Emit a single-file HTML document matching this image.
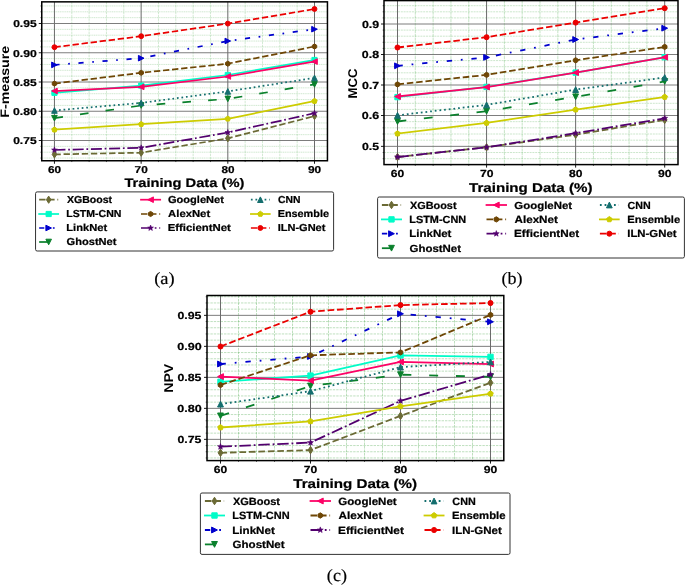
<!DOCTYPE html>
<html><head><meta charset="utf-8"><style>
html,body{margin:0;padding:0;background:#fff;}
svg{display:block;will-change:transform;}
text{text-rendering:geometricPrecision;}
</style></head><body>
<svg width="685" height="585" viewBox="0 0 685 585">
<rect width="685" height="585" fill="#fff"/>
<clipPath id="clipa"><rect x="41.75" y="1.85" width="285.7" height="158.9"/></clipPath>
<g clip-path="url(#clipa)">
<line x1="71.79" y1="1.85" x2="71.79" y2="160.75" stroke="#2e9a2e" stroke-opacity="0.24" stroke-width="0.9" stroke-dasharray="2.5,0.8"/>
<line x1="89.12" y1="1.85" x2="89.12" y2="160.75" stroke="#2e9a2e" stroke-opacity="0.24" stroke-width="0.9" stroke-dasharray="2.5,0.8"/>
<line x1="106.46" y1="1.85" x2="106.46" y2="160.75" stroke="#2e9a2e" stroke-opacity="0.24" stroke-width="0.9" stroke-dasharray="2.5,0.8"/>
<line x1="123.80" y1="1.85" x2="123.80" y2="160.75" stroke="#2e9a2e" stroke-opacity="0.24" stroke-width="0.9" stroke-dasharray="2.5,0.8"/>
<line x1="158.47" y1="1.85" x2="158.47" y2="160.75" stroke="#2e9a2e" stroke-opacity="0.24" stroke-width="0.9" stroke-dasharray="2.5,0.8"/>
<line x1="175.81" y1="1.85" x2="175.81" y2="160.75" stroke="#2e9a2e" stroke-opacity="0.24" stroke-width="0.9" stroke-dasharray="2.5,0.8"/>
<line x1="193.14" y1="1.85" x2="193.14" y2="160.75" stroke="#2e9a2e" stroke-opacity="0.24" stroke-width="0.9" stroke-dasharray="2.5,0.8"/>
<line x1="210.48" y1="1.85" x2="210.48" y2="160.75" stroke="#2e9a2e" stroke-opacity="0.24" stroke-width="0.9" stroke-dasharray="2.5,0.8"/>
<line x1="245.15" y1="1.85" x2="245.15" y2="160.75" stroke="#2e9a2e" stroke-opacity="0.24" stroke-width="0.9" stroke-dasharray="2.5,0.8"/>
<line x1="262.49" y1="1.85" x2="262.49" y2="160.75" stroke="#2e9a2e" stroke-opacity="0.24" stroke-width="0.9" stroke-dasharray="2.5,0.8"/>
<line x1="279.83" y1="1.85" x2="279.83" y2="160.75" stroke="#2e9a2e" stroke-opacity="0.24" stroke-width="0.9" stroke-dasharray="2.5,0.8"/>
<line x1="297.16" y1="1.85" x2="297.16" y2="160.75" stroke="#2e9a2e" stroke-opacity="0.24" stroke-width="0.9" stroke-dasharray="2.5,0.8"/>
<line x1="41.75" y1="158.05" x2="327.45" y2="158.05" stroke="#2e9a2e" stroke-opacity="0.25" stroke-width="0.9" stroke-dasharray="1.2,0.6"/>
<line x1="41.75" y1="152.20" x2="327.45" y2="152.20" stroke="#2e9a2e" stroke-opacity="0.25" stroke-width="0.9" stroke-dasharray="1.2,0.6"/>
<line x1="41.75" y1="146.35" x2="327.45" y2="146.35" stroke="#2e9a2e" stroke-opacity="0.25" stroke-width="0.9" stroke-dasharray="1.2,0.6"/>
<line x1="41.75" y1="134.65" x2="327.45" y2="134.65" stroke="#2e9a2e" stroke-opacity="0.25" stroke-width="0.9" stroke-dasharray="1.2,0.6"/>
<line x1="41.75" y1="128.80" x2="327.45" y2="128.80" stroke="#2e9a2e" stroke-opacity="0.25" stroke-width="0.9" stroke-dasharray="1.2,0.6"/>
<line x1="41.75" y1="122.95" x2="327.45" y2="122.95" stroke="#2e9a2e" stroke-opacity="0.25" stroke-width="0.9" stroke-dasharray="1.2,0.6"/>
<line x1="41.75" y1="117.10" x2="327.45" y2="117.10" stroke="#2e9a2e" stroke-opacity="0.25" stroke-width="0.9" stroke-dasharray="1.2,0.6"/>
<line x1="41.75" y1="105.40" x2="327.45" y2="105.40" stroke="#2e9a2e" stroke-opacity="0.25" stroke-width="0.9" stroke-dasharray="1.2,0.6"/>
<line x1="41.75" y1="99.55" x2="327.45" y2="99.55" stroke="#2e9a2e" stroke-opacity="0.25" stroke-width="0.9" stroke-dasharray="1.2,0.6"/>
<line x1="41.75" y1="93.70" x2="327.45" y2="93.70" stroke="#2e9a2e" stroke-opacity="0.25" stroke-width="0.9" stroke-dasharray="1.2,0.6"/>
<line x1="41.75" y1="87.85" x2="327.45" y2="87.85" stroke="#2e9a2e" stroke-opacity="0.25" stroke-width="0.9" stroke-dasharray="1.2,0.6"/>
<line x1="41.75" y1="76.15" x2="327.45" y2="76.15" stroke="#2e9a2e" stroke-opacity="0.25" stroke-width="0.9" stroke-dasharray="1.2,0.6"/>
<line x1="41.75" y1="70.30" x2="327.45" y2="70.30" stroke="#2e9a2e" stroke-opacity="0.25" stroke-width="0.9" stroke-dasharray="1.2,0.6"/>
<line x1="41.75" y1="64.45" x2="327.45" y2="64.45" stroke="#2e9a2e" stroke-opacity="0.25" stroke-width="0.9" stroke-dasharray="1.2,0.6"/>
<line x1="41.75" y1="58.60" x2="327.45" y2="58.60" stroke="#2e9a2e" stroke-opacity="0.25" stroke-width="0.9" stroke-dasharray="1.2,0.6"/>
<line x1="41.75" y1="46.90" x2="327.45" y2="46.90" stroke="#2e9a2e" stroke-opacity="0.25" stroke-width="0.9" stroke-dasharray="1.2,0.6"/>
<line x1="41.75" y1="41.05" x2="327.45" y2="41.05" stroke="#2e9a2e" stroke-opacity="0.25" stroke-width="0.9" stroke-dasharray="1.2,0.6"/>
<line x1="41.75" y1="35.20" x2="327.45" y2="35.20" stroke="#2e9a2e" stroke-opacity="0.25" stroke-width="0.9" stroke-dasharray="1.2,0.6"/>
<line x1="41.75" y1="29.35" x2="327.45" y2="29.35" stroke="#2e9a2e" stroke-opacity="0.25" stroke-width="0.9" stroke-dasharray="1.2,0.6"/>
<line x1="41.75" y1="17.65" x2="327.45" y2="17.65" stroke="#2e9a2e" stroke-opacity="0.25" stroke-width="0.9" stroke-dasharray="1.2,0.6"/>
<line x1="41.75" y1="11.80" x2="327.45" y2="11.80" stroke="#2e9a2e" stroke-opacity="0.25" stroke-width="0.9" stroke-dasharray="1.2,0.6"/>
<line x1="41.75" y1="5.95" x2="327.45" y2="5.95" stroke="#2e9a2e" stroke-opacity="0.25" stroke-width="0.9" stroke-dasharray="1.2,0.6"/>
<line x1="54.45" y1="1.85" x2="54.45" y2="160.75" stroke="#5a5a5a" stroke-width="0.9"/>
<line x1="141.13" y1="1.85" x2="141.13" y2="160.75" stroke="#5a5a5a" stroke-width="0.9"/>
<line x1="227.82" y1="1.85" x2="227.82" y2="160.75" stroke="#5a5a5a" stroke-width="0.9"/>
<line x1="314.50" y1="1.85" x2="314.50" y2="160.75" stroke="#5a5a5a" stroke-width="0.9"/>
<line x1="41.75" y1="140.50" x2="327.45" y2="140.50" stroke="#6e6e6e" stroke-width="0.9"/>
<line x1="41.75" y1="111.25" x2="327.45" y2="111.25" stroke="#6e6e6e" stroke-width="0.9"/>
<line x1="41.75" y1="82.00" x2="327.45" y2="82.00" stroke="#6e6e6e" stroke-width="0.9"/>
<line x1="41.75" y1="52.75" x2="327.45" y2="52.75" stroke="#6e6e6e" stroke-width="0.9"/>
<line x1="41.75" y1="23.50" x2="327.45" y2="23.50" stroke="#6e6e6e" stroke-width="0.9"/>
<polyline points="54.45,154.40 141.20,152.70 227.80,138.30 314.50,116.10" fill="none" stroke="#6b6a35" stroke-width="1.72" stroke-dasharray="6.36,2.75" stroke-linejoin="round"/>
<polygon points="54.45,150.80 56.75,154.40 54.45,158.00 52.15,154.40" fill="#6b6a35" stroke="#6b6a35" stroke-width="1.0" stroke-linejoin="miter"/>
<polygon points="141.20,149.10 143.50,152.70 141.20,156.30 138.90,152.70" fill="#6b6a35" stroke="#6b6a35" stroke-width="1.0" stroke-linejoin="miter"/>
<polygon points="227.80,134.70 230.10,138.30 227.80,141.90 225.50,138.30" fill="#6b6a35" stroke="#6b6a35" stroke-width="1.0" stroke-linejoin="miter"/>
<polygon points="314.50,112.50 316.80,116.10 314.50,119.70 312.20,116.10" fill="#6b6a35" stroke="#6b6a35" stroke-width="1.0" stroke-linejoin="miter"/>
<polyline points="54.45,92.80 141.20,85.60 227.80,75.00 314.50,60.00" fill="none" stroke="#00fcc8" stroke-width="1.72" stroke-linecap="square" stroke-linejoin="round"/>
<polygon points="51.85,90.20 57.05,90.20 57.05,95.40 51.85,95.40" fill="#00fcc8" stroke="#00fcc8" stroke-width="1.0" stroke-linejoin="miter"/>
<polygon points="138.60,83.00 143.80,83.00 143.80,88.20 138.60,88.20" fill="#00fcc8" stroke="#00fcc8" stroke-width="1.0" stroke-linejoin="miter"/>
<polygon points="225.20,72.40 230.40,72.40 230.40,77.60 225.20,77.60" fill="#00fcc8" stroke="#00fcc8" stroke-width="1.0" stroke-linejoin="miter"/>
<polygon points="311.90,57.40 317.10,57.40 317.10,62.60 311.90,62.60" fill="#00fcc8" stroke="#00fcc8" stroke-width="1.0" stroke-linejoin="miter"/>
<polyline points="54.45,64.90 141.20,58.20 227.80,41.00 314.50,29.20" fill="none" stroke="#0000cd" stroke-width="1.72" stroke-dasharray="5.16,8.60,1.72,8.60" stroke-linejoin="round"/>
<polygon points="57.25,64.90 51.65,62.10 51.65,67.70" fill="#0000cd" stroke="#0000cd" stroke-width="1.0" stroke-linejoin="miter"/>
<polygon points="144.00,58.20 138.40,55.40 138.40,61.00" fill="#0000cd" stroke="#0000cd" stroke-width="1.0" stroke-linejoin="miter"/>
<polygon points="230.60,41.00 225.00,38.20 225.00,43.80" fill="#0000cd" stroke="#0000cd" stroke-width="1.0" stroke-linejoin="miter"/>
<polygon points="317.30,29.20 311.70,26.40 311.70,32.00" fill="#0000cd" stroke="#0000cd" stroke-width="1.0" stroke-linejoin="miter"/>
<polyline points="54.45,118.20 141.20,105.50 227.80,98.90 314.50,84.40" fill="none" stroke="#0a802c" stroke-width="1.72" stroke-dasharray="8.60,17.20" stroke-linejoin="round"/>
<polygon points="54.45,121.00 51.65,115.40 57.25,115.40" fill="#0a802c" stroke="#0a802c" stroke-width="1.0" stroke-linejoin="miter"/>
<polygon points="141.20,108.30 138.40,102.70 144.00,102.70" fill="#0a802c" stroke="#0a802c" stroke-width="1.0" stroke-linejoin="miter"/>
<polygon points="227.80,101.70 225.00,96.10 230.60,96.10" fill="#0a802c" stroke="#0a802c" stroke-width="1.0" stroke-linejoin="miter"/>
<polygon points="314.50,87.20 311.70,81.60 317.30,81.60" fill="#0a802c" stroke="#0a802c" stroke-width="1.0" stroke-linejoin="miter"/>
<polyline points="54.45,91.00 141.20,86.90 227.80,76.50 314.50,61.60" fill="none" stroke="#fd0266" stroke-width="1.72" stroke-linecap="square" stroke-linejoin="round"/>
<polygon points="51.65,91.00 57.25,88.20 57.25,93.80" fill="#fd0266" stroke="#fd0266" stroke-width="1.0" stroke-linejoin="miter"/>
<polygon points="138.40,86.90 144.00,84.10 144.00,89.70" fill="#fd0266" stroke="#fd0266" stroke-width="1.0" stroke-linejoin="miter"/>
<polygon points="225.00,76.50 230.60,73.70 230.60,79.30" fill="#fd0266" stroke="#fd0266" stroke-width="1.0" stroke-linejoin="miter"/>
<polygon points="311.70,61.60 317.30,58.80 317.30,64.40" fill="#fd0266" stroke="#fd0266" stroke-width="1.0" stroke-linejoin="miter"/>
<polyline points="54.45,83.60 141.20,72.80 227.80,63.70 314.50,46.50" fill="none" stroke="#6e4605" stroke-width="1.72" stroke-dasharray="6.36,2.75" stroke-linejoin="round"/>
<polygon points="54.45,81.05 56.66,82.32 56.66,84.88 54.45,86.15 52.24,84.88 52.24,82.32" fill="#6e4605" stroke="#6e4605" stroke-width="1.0" stroke-linejoin="miter"/>
<polygon points="141.20,70.25 143.41,71.52 143.41,74.08 141.20,75.35 138.99,74.08 138.99,71.52" fill="#6e4605" stroke="#6e4605" stroke-width="1.0" stroke-linejoin="miter"/>
<polygon points="227.80,61.15 230.01,62.43 230.01,64.98 227.80,66.25 225.59,64.98 225.59,62.43" fill="#6e4605" stroke="#6e4605" stroke-width="1.0" stroke-linejoin="miter"/>
<polygon points="314.50,43.95 316.71,45.23 316.71,47.77 314.50,49.05 312.29,47.77 312.29,45.23" fill="#6e4605" stroke="#6e4605" stroke-width="1.0" stroke-linejoin="miter"/>
<polyline points="54.45,150.00 141.20,147.80 227.80,132.50 314.50,113.20" fill="none" stroke="#52006e" stroke-width="1.72" stroke-dasharray="11.01,2.75,1.72,2.75" stroke-linejoin="round"/>
<polygon points="54.45,147.00 55.19,148.98 57.30,149.07 55.65,150.39 56.21,152.43 54.45,151.26 52.69,152.43 53.25,150.39 51.60,149.07 53.71,148.98" fill="#52006e" stroke="#52006e" stroke-width="0.6"/>
<polygon points="141.20,144.80 141.94,146.78 144.05,146.87 142.40,148.19 142.96,150.23 141.20,149.06 139.44,150.23 140.00,148.19 138.35,146.87 140.46,146.78" fill="#52006e" stroke="#52006e" stroke-width="0.6"/>
<polygon points="227.80,129.50 228.54,131.48 230.65,131.57 229.00,132.89 229.56,134.93 227.80,133.76 226.04,134.93 226.60,132.89 224.95,131.57 227.06,131.48" fill="#52006e" stroke="#52006e" stroke-width="0.6"/>
<polygon points="314.50,110.20 315.24,112.18 317.35,112.27 315.70,113.59 316.26,115.63 314.50,114.46 312.74,115.63 313.30,113.59 311.65,112.27 313.76,112.18" fill="#52006e" stroke="#52006e" stroke-width="0.6"/>
<polyline points="54.45,110.50 141.20,102.90 227.80,91.40 314.50,77.90" fill="none" stroke="#146e6e" stroke-width="1.72" stroke-dasharray="1.72,2.84" stroke-linejoin="round"/>
<polygon points="54.45,107.70 51.65,113.30 57.25,113.30" fill="#146e6e" stroke="#146e6e" stroke-width="1.0" stroke-linejoin="miter"/>
<polygon points="141.20,100.10 138.40,105.70 144.00,105.70" fill="#146e6e" stroke="#146e6e" stroke-width="1.0" stroke-linejoin="miter"/>
<polygon points="227.80,88.60 225.00,94.20 230.60,94.20" fill="#146e6e" stroke="#146e6e" stroke-width="1.0" stroke-linejoin="miter"/>
<polygon points="314.50,75.10 311.70,80.70 317.30,80.70" fill="#146e6e" stroke="#146e6e" stroke-width="1.0" stroke-linejoin="miter"/>
<polyline points="54.45,129.70 141.20,124.20 227.80,118.80 314.50,101.10" fill="none" stroke="#cdcc00" stroke-width="1.72" stroke-linecap="square" stroke-linejoin="round"/>
<polygon points="54.45,126.90 57.11,128.83 56.10,131.97 52.80,131.97 51.79,128.83" fill="#cdcc00" stroke="#cdcc00" stroke-width="1.0" stroke-linejoin="miter"/>
<polygon points="141.20,121.40 143.86,123.33 142.85,126.47 139.55,126.47 138.54,123.33" fill="#cdcc00" stroke="#cdcc00" stroke-width="1.0" stroke-linejoin="miter"/>
<polygon points="227.80,116.00 230.46,117.93 229.45,121.07 226.15,121.07 225.14,117.93" fill="#cdcc00" stroke="#cdcc00" stroke-width="1.0" stroke-linejoin="miter"/>
<polygon points="314.50,98.30 317.16,100.23 316.15,103.37 312.85,103.37 311.84,100.23" fill="#cdcc00" stroke="#cdcc00" stroke-width="1.0" stroke-linejoin="miter"/>
<polyline points="54.45,47.20 141.20,36.20 227.80,23.60 314.50,9.00" fill="none" stroke="#eb0000" stroke-width="1.72" stroke-dasharray="6.36,2.75" stroke-linejoin="round"/>
<circle cx="54.45" cy="47.20" r="2.45" fill="#eb0000" stroke="#eb0000" stroke-width="1.0" stroke-linejoin="miter"/>
<circle cx="141.20" cy="36.20" r="2.45" fill="#eb0000" stroke="#eb0000" stroke-width="1.0" stroke-linejoin="miter"/>
<circle cx="227.80" cy="23.60" r="2.45" fill="#eb0000" stroke="#eb0000" stroke-width="1.0" stroke-linejoin="miter"/>
<circle cx="314.50" cy="9.00" r="2.45" fill="#eb0000" stroke="#eb0000" stroke-width="1.0" stroke-linejoin="miter"/>
</g>
<rect x="41.75" y="1.85" width="285.70" height="158.90" fill="none" stroke="#000" stroke-width="1.5"/>
<line x1="54.45" y1="160.75" x2="54.45" y2="163.75" stroke="#000" stroke-width="0.9"/>
<line x1="141.13" y1="160.75" x2="141.13" y2="163.75" stroke="#000" stroke-width="0.9"/>
<line x1="227.82" y1="160.75" x2="227.82" y2="163.75" stroke="#000" stroke-width="0.9"/>
<line x1="314.50" y1="160.75" x2="314.50" y2="163.75" stroke="#000" stroke-width="0.9"/>
<line x1="71.79" y1="160.75" x2="71.79" y2="162.05" stroke="#000" stroke-width="0.6"/>
<line x1="89.12" y1="160.75" x2="89.12" y2="162.05" stroke="#000" stroke-width="0.6"/>
<line x1="106.46" y1="160.75" x2="106.46" y2="162.05" stroke="#000" stroke-width="0.6"/>
<line x1="123.80" y1="160.75" x2="123.80" y2="162.05" stroke="#000" stroke-width="0.6"/>
<line x1="158.47" y1="160.75" x2="158.47" y2="162.05" stroke="#000" stroke-width="0.6"/>
<line x1="175.81" y1="160.75" x2="175.81" y2="162.05" stroke="#000" stroke-width="0.6"/>
<line x1="193.14" y1="160.75" x2="193.14" y2="162.05" stroke="#000" stroke-width="0.6"/>
<line x1="210.48" y1="160.75" x2="210.48" y2="162.05" stroke="#000" stroke-width="0.6"/>
<line x1="245.15" y1="160.75" x2="245.15" y2="162.05" stroke="#000" stroke-width="0.6"/>
<line x1="262.49" y1="160.75" x2="262.49" y2="162.05" stroke="#000" stroke-width="0.6"/>
<line x1="279.83" y1="160.75" x2="279.83" y2="162.05" stroke="#000" stroke-width="0.6"/>
<line x1="297.16" y1="160.75" x2="297.16" y2="162.05" stroke="#000" stroke-width="0.6"/>
<line x1="38.75" y1="140.50" x2="41.75" y2="140.50" stroke="#000" stroke-width="0.9"/>
<line x1="38.75" y1="111.25" x2="41.75" y2="111.25" stroke="#000" stroke-width="0.9"/>
<line x1="38.75" y1="82.00" x2="41.75" y2="82.00" stroke="#000" stroke-width="0.9"/>
<line x1="38.75" y1="52.75" x2="41.75" y2="52.75" stroke="#000" stroke-width="0.9"/>
<line x1="38.75" y1="23.50" x2="41.75" y2="23.50" stroke="#000" stroke-width="0.9"/>
<line x1="40.45" y1="158.05" x2="41.75" y2="158.05" stroke="#000" stroke-width="0.6"/>
<line x1="40.45" y1="152.20" x2="41.75" y2="152.20" stroke="#000" stroke-width="0.6"/>
<line x1="40.45" y1="146.35" x2="41.75" y2="146.35" stroke="#000" stroke-width="0.6"/>
<line x1="40.45" y1="134.65" x2="41.75" y2="134.65" stroke="#000" stroke-width="0.6"/>
<line x1="40.45" y1="128.80" x2="41.75" y2="128.80" stroke="#000" stroke-width="0.6"/>
<line x1="40.45" y1="122.95" x2="41.75" y2="122.95" stroke="#000" stroke-width="0.6"/>
<line x1="40.45" y1="117.10" x2="41.75" y2="117.10" stroke="#000" stroke-width="0.6"/>
<line x1="40.45" y1="105.40" x2="41.75" y2="105.40" stroke="#000" stroke-width="0.6"/>
<line x1="40.45" y1="99.55" x2="41.75" y2="99.55" stroke="#000" stroke-width="0.6"/>
<line x1="40.45" y1="93.70" x2="41.75" y2="93.70" stroke="#000" stroke-width="0.6"/>
<line x1="40.45" y1="87.85" x2="41.75" y2="87.85" stroke="#000" stroke-width="0.6"/>
<line x1="40.45" y1="76.15" x2="41.75" y2="76.15" stroke="#000" stroke-width="0.6"/>
<line x1="40.45" y1="70.30" x2="41.75" y2="70.30" stroke="#000" stroke-width="0.6"/>
<line x1="40.45" y1="64.45" x2="41.75" y2="64.45" stroke="#000" stroke-width="0.6"/>
<line x1="40.45" y1="58.60" x2="41.75" y2="58.60" stroke="#000" stroke-width="0.6"/>
<line x1="40.45" y1="46.90" x2="41.75" y2="46.90" stroke="#000" stroke-width="0.6"/>
<line x1="40.45" y1="41.05" x2="41.75" y2="41.05" stroke="#000" stroke-width="0.6"/>
<line x1="40.45" y1="35.20" x2="41.75" y2="35.20" stroke="#000" stroke-width="0.6"/>
<line x1="40.45" y1="29.35" x2="41.75" y2="29.35" stroke="#000" stroke-width="0.6"/>
<line x1="40.45" y1="17.65" x2="41.75" y2="17.65" stroke="#000" stroke-width="0.6"/>
<line x1="40.45" y1="11.80" x2="41.75" y2="11.80" stroke="#000" stroke-width="0.6"/>
<line x1="40.45" y1="5.95" x2="41.75" y2="5.95" stroke="#000" stroke-width="0.6"/>
<text x="13.19" y="144.36" font-family="Liberation Sans" font-weight="bold" font-size="9.99" textLength="23.38" lengthAdjust="spacingAndGlyphs" stroke="#000" stroke-width="0.22" stroke-linejoin="round">0.75</text>
<text x="12.97" y="115.11" font-family="Liberation Sans" font-weight="bold" font-size="9.99" textLength="23.77" lengthAdjust="spacingAndGlyphs" stroke="#000" stroke-width="0.22" stroke-linejoin="round">0.80</text>
<text x="13.19" y="85.86" font-family="Liberation Sans" font-weight="bold" font-size="9.99" textLength="23.38" lengthAdjust="spacingAndGlyphs" stroke="#000" stroke-width="0.22" stroke-linejoin="round">0.85</text>
<text x="12.97" y="56.61" font-family="Liberation Sans" font-weight="bold" font-size="9.99" textLength="23.77" lengthAdjust="spacingAndGlyphs" stroke="#000" stroke-width="0.22" stroke-linejoin="round">0.90</text>
<text x="13.19" y="27.36" font-family="Liberation Sans" font-weight="bold" font-size="9.99" textLength="23.38" lengthAdjust="spacingAndGlyphs" stroke="#000" stroke-width="0.22" stroke-linejoin="round">0.95</text>
<text x="47.98" y="173.01" font-family="Liberation Sans" font-weight="bold" font-size="9.99" textLength="13.13" lengthAdjust="spacingAndGlyphs" stroke="#000" stroke-width="0.22" stroke-linejoin="round">60</text>
<text x="134.63" y="173.01" font-family="Liberation Sans" font-weight="bold" font-size="9.99" textLength="13.16" lengthAdjust="spacingAndGlyphs" stroke="#000" stroke-width="0.22" stroke-linejoin="round">70</text>
<text x="221.40" y="173.01" font-family="Liberation Sans" font-weight="bold" font-size="9.99" textLength="13.08" lengthAdjust="spacingAndGlyphs" stroke="#000" stroke-width="0.22" stroke-linejoin="round">80</text>
<text x="307.95" y="173.01" font-family="Liberation Sans" font-weight="bold" font-size="9.99" textLength="13.21" lengthAdjust="spacingAndGlyphs" stroke="#000" stroke-width="0.22" stroke-linejoin="round">90</text>
<text x="124.44" y="186.60" font-family="Liberation Sans" font-weight="bold" font-size="12.34" textLength="119.91" lengthAdjust="spacingAndGlyphs" stroke="#000" stroke-width="0.22" stroke-linejoin="round">Training Data (%)</text>
<g transform="translate(8.70,81.75) rotate(-90)"><text x="-35.97" y="0.00" font-family="Liberation Sans" font-weight="bold" font-size="12.34" textLength="72.00" lengthAdjust="spacingAndGlyphs">F-measure</text></g>
<rect x="35.55" y="191.9" width="298.05" height="59.10" rx="1.6" fill="#fff" stroke="#333" stroke-width="1.0"/>
<line x1="39.15" y1="199.70" x2="58.20" y2="199.70" stroke="#6b6a35" stroke-width="1.72" stroke-dasharray="6.36,2.75"/>
<polygon points="48.67,196.10 50.97,199.70 48.67,203.30 46.38,199.70" fill="#6b6a35" stroke="#6b6a35" stroke-width="1.0" stroke-linejoin="miter"/>
<text x="66.92" y="203.16" font-family="Liberation Sans" font-weight="bold" font-size="10.07" textLength="45.22" lengthAdjust="spacingAndGlyphs" stroke="#000" stroke-width="0.22" stroke-linejoin="round">XGBoost</text>
<line x1="39.15" y1="214.00" x2="58.20" y2="214.00" stroke="#00fcc8" stroke-width="1.72" stroke-linecap="square"/>
<polygon points="46.07,211.40 51.27,211.40 51.27,216.60 46.07,216.60" fill="#00fcc8" stroke="#00fcc8" stroke-width="1.0" stroke-linejoin="miter"/>
<text x="66.30" y="217.46" font-family="Liberation Sans" font-weight="bold" font-size="10.07" textLength="55.10" lengthAdjust="spacingAndGlyphs" stroke="#000" stroke-width="0.22" stroke-linejoin="round">LSTM-CNN</text>
<line x1="39.15" y1="228.00" x2="58.20" y2="228.00" stroke="#0000cd" stroke-width="1.72" stroke-dasharray="5.16,8.60,1.72,8.60"/>
<polygon points="51.47,228.00 45.88,225.20 45.88,230.80" fill="#0000cd" stroke="#0000cd" stroke-width="1.0" stroke-linejoin="miter"/>
<text x="66.26" y="231.46" font-family="Liberation Sans" font-weight="bold" font-size="10.07" textLength="40.90" lengthAdjust="spacingAndGlyphs" stroke="#000" stroke-width="0.22" stroke-linejoin="round">LinkNet</text>
<line x1="39.15" y1="242.00" x2="58.20" y2="242.00" stroke="#0a802c" stroke-width="1.72" stroke-dasharray="8.60,17.20"/>
<polygon points="48.67,244.80 45.88,239.20 51.47,239.20" fill="#0a802c" stroke="#0a802c" stroke-width="1.0" stroke-linejoin="miter"/>
<text x="66.56" y="245.46" font-family="Liberation Sans" font-weight="bold" font-size="10.07" textLength="49.90" lengthAdjust="spacingAndGlyphs" stroke="#000" stroke-width="0.22" stroke-linejoin="round">GhostNet</text>
<line x1="141.00" y1="199.70" x2="160.20" y2="199.70" stroke="#fd0266" stroke-width="1.72" stroke-linecap="square"/>
<polygon points="147.80,199.70 153.40,196.90 153.40,202.50" fill="#fd0266" stroke="#fd0266" stroke-width="1.0" stroke-linejoin="miter"/>
<text x="167.96" y="203.16" font-family="Liberation Sans" font-weight="bold" font-size="10.07" textLength="55.96" lengthAdjust="spacingAndGlyphs" stroke="#000" stroke-width="0.22" stroke-linejoin="round">GoogleNet</text>
<line x1="141.00" y1="214.00" x2="160.20" y2="214.00" stroke="#6e4605" stroke-width="1.72" stroke-dasharray="6.36,2.75"/>
<polygon points="150.60,211.45 152.81,212.72 152.81,215.28 150.60,216.55 148.39,215.28 148.39,212.72" fill="#6e4605" stroke="#6e4605" stroke-width="1.0" stroke-linejoin="miter"/>
<text x="168.13" y="217.46" font-family="Liberation Sans" font-weight="bold" font-size="10.07" textLength="42.05" lengthAdjust="spacingAndGlyphs" stroke="#000" stroke-width="0.22" stroke-linejoin="round">AlexNet</text>
<line x1="141.00" y1="228.00" x2="160.20" y2="228.00" stroke="#52006e" stroke-width="1.72" stroke-dasharray="11.01,2.75,1.72,2.75"/>
<polygon points="150.60,225.00 151.34,226.98 153.45,227.07 151.80,228.39 152.36,230.43 150.60,229.26 148.84,230.43 149.40,228.39 147.75,227.07 149.86,226.98" fill="#52006e" stroke="#52006e" stroke-width="0.6"/>
<text x="167.65" y="231.46" font-family="Liberation Sans" font-weight="bold" font-size="10.07" textLength="63.17" lengthAdjust="spacingAndGlyphs" stroke="#000" stroke-width="0.22" stroke-linejoin="round">EfficientNet</text>
<line x1="250.90" y1="199.70" x2="269.80" y2="199.70" stroke="#146e6e" stroke-width="1.72" stroke-dasharray="1.72,2.84"/>
<polygon points="260.35,196.90 257.55,202.50 263.15,202.50" fill="#146e6e" stroke="#146e6e" stroke-width="1.0" stroke-linejoin="miter"/>
<text x="277.99" y="203.16" font-family="Liberation Sans" font-weight="bold" font-size="10.07" textLength="22.43" lengthAdjust="spacingAndGlyphs" stroke="#000" stroke-width="0.22" stroke-linejoin="round">CNN</text>
<line x1="250.90" y1="214.00" x2="269.80" y2="214.00" stroke="#cdcc00" stroke-width="1.72" stroke-linecap="square"/>
<polygon points="260.35,211.20 263.01,213.13 262.00,216.27 258.70,216.27 257.69,213.13" fill="#cdcc00" stroke="#cdcc00" stroke-width="1.0" stroke-linejoin="miter"/>
<text x="277.68" y="217.46" font-family="Liberation Sans" font-weight="bold" font-size="10.07" textLength="51.30" lengthAdjust="spacingAndGlyphs" stroke="#000" stroke-width="0.22" stroke-linejoin="round">Ensemble</text>
<line x1="250.90" y1="228.00" x2="269.80" y2="228.00" stroke="#eb0000" stroke-width="1.72" stroke-dasharray="6.36,2.75"/>
<circle cx="260.35" cy="228.00" r="2.45" fill="#eb0000" stroke="#eb0000" stroke-width="1.0" stroke-linejoin="miter"/>
<text x="277.67" y="231.46" font-family="Liberation Sans" font-weight="bold" font-size="10.07" textLength="47.78" lengthAdjust="spacingAndGlyphs" stroke="#000" stroke-width="0.22" stroke-linejoin="round">ILN-GNet</text>
<text x="154.23" y="284.10" font-family="Liberation Serif" font-weight="normal" font-size="17.30" textLength="20.44" lengthAdjust="spacingAndGlyphs" stroke="#000" stroke-width="0.18" stroke-linejoin="round">(a)</text>
<clipPath id="clipb"><rect x="384.0" y="0.6" width="294.0" height="164.0"/></clipPath>
<g clip-path="url(#clipb)">
<line x1="415.31" y1="0.6" x2="415.31" y2="164.6" stroke="#2e9a2e" stroke-opacity="0.3" stroke-width="0.9" stroke-dasharray="3,0.7"/>
<line x1="433.13" y1="0.6" x2="433.13" y2="164.6" stroke="#2e9a2e" stroke-opacity="0.3" stroke-width="0.9" stroke-dasharray="3,0.7"/>
<line x1="450.94" y1="0.6" x2="450.94" y2="164.6" stroke="#2e9a2e" stroke-opacity="0.3" stroke-width="0.9" stroke-dasharray="3,0.7"/>
<line x1="468.75" y1="0.6" x2="468.75" y2="164.6" stroke="#2e9a2e" stroke-opacity="0.3" stroke-width="0.9" stroke-dasharray="3,0.7"/>
<line x1="504.38" y1="0.6" x2="504.38" y2="164.6" stroke="#2e9a2e" stroke-opacity="0.3" stroke-width="0.9" stroke-dasharray="3,0.7"/>
<line x1="522.19" y1="0.6" x2="522.19" y2="164.6" stroke="#2e9a2e" stroke-opacity="0.3" stroke-width="0.9" stroke-dasharray="3,0.7"/>
<line x1="540.01" y1="0.6" x2="540.01" y2="164.6" stroke="#2e9a2e" stroke-opacity="0.3" stroke-width="0.9" stroke-dasharray="3,0.7"/>
<line x1="557.82" y1="0.6" x2="557.82" y2="164.6" stroke="#2e9a2e" stroke-opacity="0.3" stroke-width="0.9" stroke-dasharray="3,0.7"/>
<line x1="593.45" y1="0.6" x2="593.45" y2="164.6" stroke="#2e9a2e" stroke-opacity="0.3" stroke-width="0.9" stroke-dasharray="3,0.7"/>
<line x1="611.26" y1="0.6" x2="611.26" y2="164.6" stroke="#2e9a2e" stroke-opacity="0.3" stroke-width="0.9" stroke-dasharray="3,0.7"/>
<line x1="629.07" y1="0.6" x2="629.07" y2="164.6" stroke="#2e9a2e" stroke-opacity="0.3" stroke-width="0.9" stroke-dasharray="3,0.7"/>
<line x1="646.89" y1="0.6" x2="646.89" y2="164.6" stroke="#2e9a2e" stroke-opacity="0.3" stroke-width="0.9" stroke-dasharray="3,0.7"/>
<line x1="384.0" y1="158.69" x2="678.0" y2="158.69" stroke="#2e9a2e" stroke-opacity="0.27" stroke-width="0.9" stroke-dasharray="2,0.8"/>
<line x1="384.0" y1="152.52" x2="678.0" y2="152.52" stroke="#2e9a2e" stroke-opacity="0.27" stroke-width="0.9" stroke-dasharray="2,0.8"/>
<line x1="384.0" y1="140.18" x2="678.0" y2="140.18" stroke="#2e9a2e" stroke-opacity="0.27" stroke-width="0.9" stroke-dasharray="2,0.8"/>
<line x1="384.0" y1="134.01" x2="678.0" y2="134.01" stroke="#2e9a2e" stroke-opacity="0.27" stroke-width="0.9" stroke-dasharray="2,0.8"/>
<line x1="384.0" y1="127.84" x2="678.0" y2="127.84" stroke="#2e9a2e" stroke-opacity="0.27" stroke-width="0.9" stroke-dasharray="2,0.8"/>
<line x1="384.0" y1="121.67" x2="678.0" y2="121.67" stroke="#2e9a2e" stroke-opacity="0.27" stroke-width="0.9" stroke-dasharray="2,0.8"/>
<line x1="384.0" y1="109.40" x2="678.0" y2="109.40" stroke="#2e9a2e" stroke-opacity="0.27" stroke-width="0.9" stroke-dasharray="2,0.8"/>
<line x1="384.0" y1="103.30" x2="678.0" y2="103.30" stroke="#2e9a2e" stroke-opacity="0.27" stroke-width="0.9" stroke-dasharray="2,0.8"/>
<line x1="384.0" y1="97.20" x2="678.0" y2="97.20" stroke="#2e9a2e" stroke-opacity="0.27" stroke-width="0.9" stroke-dasharray="2,0.8"/>
<line x1="384.0" y1="91.10" x2="678.0" y2="91.10" stroke="#2e9a2e" stroke-opacity="0.27" stroke-width="0.9" stroke-dasharray="2,0.8"/>
<line x1="384.0" y1="78.90" x2="678.0" y2="78.90" stroke="#2e9a2e" stroke-opacity="0.27" stroke-width="0.9" stroke-dasharray="2,0.8"/>
<line x1="384.0" y1="72.80" x2="678.0" y2="72.80" stroke="#2e9a2e" stroke-opacity="0.27" stroke-width="0.9" stroke-dasharray="2,0.8"/>
<line x1="384.0" y1="66.70" x2="678.0" y2="66.70" stroke="#2e9a2e" stroke-opacity="0.27" stroke-width="0.9" stroke-dasharray="2,0.8"/>
<line x1="384.0" y1="60.60" x2="678.0" y2="60.60" stroke="#2e9a2e" stroke-opacity="0.27" stroke-width="0.9" stroke-dasharray="2,0.8"/>
<line x1="384.0" y1="48.40" x2="678.0" y2="48.40" stroke="#2e9a2e" stroke-opacity="0.27" stroke-width="0.9" stroke-dasharray="2,0.8"/>
<line x1="384.0" y1="42.30" x2="678.0" y2="42.30" stroke="#2e9a2e" stroke-opacity="0.27" stroke-width="0.9" stroke-dasharray="2,0.8"/>
<line x1="384.0" y1="36.20" x2="678.0" y2="36.20" stroke="#2e9a2e" stroke-opacity="0.27" stroke-width="0.9" stroke-dasharray="2,0.8"/>
<line x1="384.0" y1="30.10" x2="678.0" y2="30.10" stroke="#2e9a2e" stroke-opacity="0.27" stroke-width="0.9" stroke-dasharray="2,0.8"/>
<line x1="384.0" y1="17.90" x2="678.0" y2="17.90" stroke="#2e9a2e" stroke-opacity="0.27" stroke-width="0.9" stroke-dasharray="2,0.8"/>
<line x1="384.0" y1="11.80" x2="678.0" y2="11.80" stroke="#2e9a2e" stroke-opacity="0.27" stroke-width="0.9" stroke-dasharray="2,0.8"/>
<line x1="384.0" y1="5.70" x2="678.0" y2="5.70" stroke="#2e9a2e" stroke-opacity="0.27" stroke-width="0.9" stroke-dasharray="2,0.8"/>
<line x1="397.50" y1="0.6" x2="397.50" y2="164.6" stroke="#5a5a5a" stroke-width="0.9"/>
<line x1="486.57" y1="0.6" x2="486.57" y2="164.6" stroke="#5a5a5a" stroke-width="0.9"/>
<line x1="575.63" y1="0.6" x2="575.63" y2="164.6" stroke="#5a5a5a" stroke-width="0.9"/>
<line x1="664.70" y1="0.6" x2="664.70" y2="164.6" stroke="#5a5a5a" stroke-width="0.9"/>
<line x1="384.0" y1="146.35" x2="678.0" y2="146.35" stroke="#6e6e6e" stroke-width="0.9"/>
<line x1="384.0" y1="115.50" x2="678.0" y2="115.50" stroke="#6e6e6e" stroke-width="0.9"/>
<line x1="384.0" y1="85.00" x2="678.0" y2="85.00" stroke="#6e6e6e" stroke-width="0.9"/>
<line x1="384.0" y1="54.50" x2="678.0" y2="54.50" stroke="#6e6e6e" stroke-width="0.9"/>
<line x1="384.0" y1="24.00" x2="678.0" y2="24.00" stroke="#6e6e6e" stroke-width="0.9"/>
<polyline points="397.50,157.00 486.57,147.30 575.63,134.70 664.70,119.90" fill="none" stroke="#6b6a35" stroke-width="1.76816" stroke-dasharray="6.54,2.83" stroke-linejoin="round"/>
<polygon points="397.50,153.30 399.86,157.00 397.50,160.70 395.14,157.00" fill="#6b6a35" stroke="#6b6a35" stroke-width="1.0" stroke-linejoin="miter"/>
<polygon points="486.57,143.60 488.93,147.30 486.57,151.00 484.21,147.30" fill="#6b6a35" stroke="#6b6a35" stroke-width="1.0" stroke-linejoin="miter"/>
<polygon points="575.63,131.00 577.99,134.70 575.63,138.40 573.27,134.70" fill="#6b6a35" stroke="#6b6a35" stroke-width="1.0" stroke-linejoin="miter"/>
<polygon points="664.70,116.20 667.06,119.90 664.70,123.60 662.34,119.90" fill="#6b6a35" stroke="#6b6a35" stroke-width="1.0" stroke-linejoin="miter"/>
<polyline points="397.50,97.10 486.57,86.90 575.63,72.60 664.70,57.20" fill="none" stroke="#00fcc8" stroke-width="1.76816" stroke-linecap="square" stroke-linejoin="round"/>
<polygon points="394.83,94.43 400.17,94.43 400.17,99.77 394.83,99.77" fill="#00fcc8" stroke="#00fcc8" stroke-width="1.0" stroke-linejoin="miter"/>
<polygon points="483.90,84.23 489.24,84.23 489.24,89.57 483.90,89.57" fill="#00fcc8" stroke="#00fcc8" stroke-width="1.0" stroke-linejoin="miter"/>
<polygon points="572.96,69.93 578.30,69.93 578.30,75.27 572.96,75.27" fill="#00fcc8" stroke="#00fcc8" stroke-width="1.0" stroke-linejoin="miter"/>
<polygon points="662.03,54.53 667.37,54.53 667.37,59.87 662.03,59.87" fill="#00fcc8" stroke="#00fcc8" stroke-width="1.0" stroke-linejoin="miter"/>
<polyline points="397.50,65.80 486.57,57.40 575.63,39.50 664.70,28.20" fill="none" stroke="#0000cd" stroke-width="1.76816" stroke-dasharray="5.30,8.84,1.77,8.84" stroke-linejoin="round"/>
<polygon points="400.38,65.80 394.62,62.92 394.62,68.68" fill="#0000cd" stroke="#0000cd" stroke-width="1.0" stroke-linejoin="miter"/>
<polygon points="489.45,57.40 483.69,54.52 483.69,60.28" fill="#0000cd" stroke="#0000cd" stroke-width="1.0" stroke-linejoin="miter"/>
<polygon points="578.51,39.50 572.75,36.62 572.75,42.38" fill="#0000cd" stroke="#0000cd" stroke-width="1.0" stroke-linejoin="miter"/>
<polygon points="667.58,28.20 661.82,25.32 661.82,31.08" fill="#0000cd" stroke="#0000cd" stroke-width="1.0" stroke-linejoin="miter"/>
<polyline points="397.50,121.50 486.57,111.20 575.63,96.80 664.70,81.40" fill="none" stroke="#0a802c" stroke-width="1.76816" stroke-dasharray="8.84,17.68" stroke-linejoin="round"/>
<polygon points="397.50,124.38 394.62,118.62 400.38,118.62" fill="#0a802c" stroke="#0a802c" stroke-width="1.0" stroke-linejoin="miter"/>
<polygon points="486.57,114.08 483.69,108.32 489.45,108.32" fill="#0a802c" stroke="#0a802c" stroke-width="1.0" stroke-linejoin="miter"/>
<polygon points="575.63,99.68 572.75,93.92 578.51,93.92" fill="#0a802c" stroke="#0a802c" stroke-width="1.0" stroke-linejoin="miter"/>
<polygon points="664.70,84.28 661.82,78.52 667.58,78.52" fill="#0a802c" stroke="#0a802c" stroke-width="1.0" stroke-linejoin="miter"/>
<polyline points="397.50,96.50 486.57,87.10 575.63,72.60 664.70,57.20" fill="none" stroke="#fd0266" stroke-width="1.76816" stroke-linecap="square" stroke-linejoin="round"/>
<polygon points="394.62,96.50 400.38,93.62 400.38,99.38" fill="#fd0266" stroke="#fd0266" stroke-width="1.0" stroke-linejoin="miter"/>
<polygon points="483.69,87.10 489.45,84.22 489.45,89.98" fill="#fd0266" stroke="#fd0266" stroke-width="1.0" stroke-linejoin="miter"/>
<polygon points="572.75,72.60 578.51,69.72 578.51,75.48" fill="#fd0266" stroke="#fd0266" stroke-width="1.0" stroke-linejoin="miter"/>
<polygon points="661.82,57.20 667.58,54.32 667.58,60.08" fill="#fd0266" stroke="#fd0266" stroke-width="1.0" stroke-linejoin="miter"/>
<polyline points="397.50,84.40 486.57,74.90 575.63,60.30 664.70,46.90" fill="none" stroke="#6e4605" stroke-width="1.76816" stroke-dasharray="6.54,2.83" stroke-linejoin="round"/>
<polygon points="397.50,81.78 399.77,83.09 399.77,85.71 397.50,87.02 395.23,85.71 395.23,83.09" fill="#6e4605" stroke="#6e4605" stroke-width="1.0" stroke-linejoin="miter"/>
<polygon points="486.57,72.28 488.84,73.59 488.84,76.21 486.57,77.52 484.30,76.21 484.30,73.59" fill="#6e4605" stroke="#6e4605" stroke-width="1.0" stroke-linejoin="miter"/>
<polygon points="575.63,57.68 577.90,58.99 577.90,61.61 575.63,62.92 573.36,61.61 573.36,58.99" fill="#6e4605" stroke="#6e4605" stroke-width="1.0" stroke-linejoin="miter"/>
<polygon points="664.70,44.28 666.97,45.59 666.97,48.21 664.70,49.52 662.43,48.21 662.43,45.59" fill="#6e4605" stroke="#6e4605" stroke-width="1.0" stroke-linejoin="miter"/>
<polyline points="397.50,157.00 486.57,147.30 575.63,133.20 664.70,118.30" fill="none" stroke="#52006e" stroke-width="1.76816" stroke-dasharray="11.32,2.83,1.77,2.83" stroke-linejoin="round"/>
<polygon points="397.50,153.92 398.26,155.95 400.43,156.05 398.73,157.40 399.31,159.50 397.50,158.30 395.69,159.50 396.27,157.40 394.57,156.05 396.74,155.95" fill="#52006e" stroke="#52006e" stroke-width="0.6"/>
<polygon points="486.57,144.22 487.33,146.25 489.50,146.35 487.80,147.70 488.38,149.80 486.57,148.60 484.76,149.80 485.34,147.70 483.64,146.35 485.81,146.25" fill="#52006e" stroke="#52006e" stroke-width="0.6"/>
<polygon points="575.63,130.12 576.39,132.15 578.56,132.25 576.86,133.60 577.44,135.70 575.63,134.50 573.82,135.70 574.40,133.60 572.70,132.25 574.87,132.15" fill="#52006e" stroke="#52006e" stroke-width="0.6"/>
<polygon points="664.70,115.22 665.46,117.25 667.63,117.35 665.93,118.70 666.51,120.80 664.70,119.60 662.89,120.80 663.47,118.70 661.77,117.35 663.94,117.25" fill="#52006e" stroke="#52006e" stroke-width="0.6"/>
<polyline points="397.50,115.30 486.57,104.90 575.63,89.60 664.70,77.50" fill="none" stroke="#146e6e" stroke-width="1.76816" stroke-dasharray="1.77,2.92" stroke-linejoin="round"/>
<polygon points="397.50,112.42 394.62,118.18 400.38,118.18" fill="#146e6e" stroke="#146e6e" stroke-width="1.0" stroke-linejoin="miter"/>
<polygon points="486.57,102.02 483.69,107.78 489.45,107.78" fill="#146e6e" stroke="#146e6e" stroke-width="1.0" stroke-linejoin="miter"/>
<polygon points="575.63,86.72 572.75,92.48 578.51,92.48" fill="#146e6e" stroke="#146e6e" stroke-width="1.0" stroke-linejoin="miter"/>
<polygon points="664.70,74.62 661.82,80.38 667.58,80.38" fill="#146e6e" stroke="#146e6e" stroke-width="1.0" stroke-linejoin="miter"/>
<polyline points="397.50,133.60 486.57,122.90 575.63,109.60 664.70,97.00" fill="none" stroke="#cdcc00" stroke-width="1.76816" stroke-linecap="square" stroke-linejoin="round"/>
<polygon points="397.50,130.72 400.24,132.71 399.19,135.93 395.81,135.93 394.76,132.71" fill="#cdcc00" stroke="#cdcc00" stroke-width="1.0" stroke-linejoin="miter"/>
<polygon points="486.57,120.02 489.31,122.01 488.26,125.23 484.88,125.23 483.83,122.01" fill="#cdcc00" stroke="#cdcc00" stroke-width="1.0" stroke-linejoin="miter"/>
<polygon points="575.63,106.72 578.37,108.71 577.32,111.93 573.94,111.93 572.89,108.71" fill="#cdcc00" stroke="#cdcc00" stroke-width="1.0" stroke-linejoin="miter"/>
<polygon points="664.70,94.12 667.44,96.11 666.39,99.33 663.01,99.33 661.96,96.11" fill="#cdcc00" stroke="#cdcc00" stroke-width="1.0" stroke-linejoin="miter"/>
<polyline points="397.50,47.50 486.57,37.20 575.63,22.60 664.70,8.20" fill="none" stroke="#eb0000" stroke-width="1.76816" stroke-dasharray="6.54,2.83" stroke-linejoin="round"/>
<circle cx="397.50" cy="47.50" r="2.52" fill="#eb0000" stroke="#eb0000" stroke-width="1.0" stroke-linejoin="miter"/>
<circle cx="486.57" cy="37.20" r="2.52" fill="#eb0000" stroke="#eb0000" stroke-width="1.0" stroke-linejoin="miter"/>
<circle cx="575.63" cy="22.60" r="2.52" fill="#eb0000" stroke="#eb0000" stroke-width="1.0" stroke-linejoin="miter"/>
<circle cx="664.70" cy="8.20" r="2.52" fill="#eb0000" stroke="#eb0000" stroke-width="1.0" stroke-linejoin="miter"/>
</g>
<rect x="384.0" y="0.6" width="294.00" height="164.00" fill="none" stroke="#000" stroke-width="1.5"/>
<line x1="397.50" y1="164.6" x2="397.50" y2="167.60" stroke="#000" stroke-width="0.9"/>
<line x1="486.57" y1="164.6" x2="486.57" y2="167.60" stroke="#000" stroke-width="0.9"/>
<line x1="575.63" y1="164.6" x2="575.63" y2="167.60" stroke="#000" stroke-width="0.9"/>
<line x1="664.70" y1="164.6" x2="664.70" y2="167.60" stroke="#000" stroke-width="0.9"/>
<line x1="415.31" y1="164.6" x2="415.31" y2="165.90" stroke="#000" stroke-width="0.6"/>
<line x1="433.13" y1="164.6" x2="433.13" y2="165.90" stroke="#000" stroke-width="0.6"/>
<line x1="450.94" y1="164.6" x2="450.94" y2="165.90" stroke="#000" stroke-width="0.6"/>
<line x1="468.75" y1="164.6" x2="468.75" y2="165.90" stroke="#000" stroke-width="0.6"/>
<line x1="504.38" y1="164.6" x2="504.38" y2="165.90" stroke="#000" stroke-width="0.6"/>
<line x1="522.19" y1="164.6" x2="522.19" y2="165.90" stroke="#000" stroke-width="0.6"/>
<line x1="540.01" y1="164.6" x2="540.01" y2="165.90" stroke="#000" stroke-width="0.6"/>
<line x1="557.82" y1="164.6" x2="557.82" y2="165.90" stroke="#000" stroke-width="0.6"/>
<line x1="593.45" y1="164.6" x2="593.45" y2="165.90" stroke="#000" stroke-width="0.6"/>
<line x1="611.26" y1="164.6" x2="611.26" y2="165.90" stroke="#000" stroke-width="0.6"/>
<line x1="629.07" y1="164.6" x2="629.07" y2="165.90" stroke="#000" stroke-width="0.6"/>
<line x1="646.89" y1="164.6" x2="646.89" y2="165.90" stroke="#000" stroke-width="0.6"/>
<line x1="381.00" y1="146.35" x2="384.0" y2="146.35" stroke="#000" stroke-width="0.9"/>
<line x1="381.00" y1="115.50" x2="384.0" y2="115.50" stroke="#000" stroke-width="0.9"/>
<line x1="381.00" y1="85.00" x2="384.0" y2="85.00" stroke="#000" stroke-width="0.9"/>
<line x1="381.00" y1="54.50" x2="384.0" y2="54.50" stroke="#000" stroke-width="0.9"/>
<line x1="381.00" y1="24.00" x2="384.0" y2="24.00" stroke="#000" stroke-width="0.9"/>
<line x1="382.70" y1="158.69" x2="384.0" y2="158.69" stroke="#000" stroke-width="0.6"/>
<line x1="382.70" y1="152.52" x2="384.0" y2="152.52" stroke="#000" stroke-width="0.6"/>
<line x1="382.70" y1="140.18" x2="384.0" y2="140.18" stroke="#000" stroke-width="0.6"/>
<line x1="382.70" y1="134.01" x2="384.0" y2="134.01" stroke="#000" stroke-width="0.6"/>
<line x1="382.70" y1="127.84" x2="384.0" y2="127.84" stroke="#000" stroke-width="0.6"/>
<line x1="382.70" y1="121.67" x2="384.0" y2="121.67" stroke="#000" stroke-width="0.6"/>
<line x1="382.70" y1="109.40" x2="384.0" y2="109.40" stroke="#000" stroke-width="0.6"/>
<line x1="382.70" y1="103.30" x2="384.0" y2="103.30" stroke="#000" stroke-width="0.6"/>
<line x1="382.70" y1="97.20" x2="384.0" y2="97.20" stroke="#000" stroke-width="0.6"/>
<line x1="382.70" y1="91.10" x2="384.0" y2="91.10" stroke="#000" stroke-width="0.6"/>
<line x1="382.70" y1="78.90" x2="384.0" y2="78.90" stroke="#000" stroke-width="0.6"/>
<line x1="382.70" y1="72.80" x2="384.0" y2="72.80" stroke="#000" stroke-width="0.6"/>
<line x1="382.70" y1="66.70" x2="384.0" y2="66.70" stroke="#000" stroke-width="0.6"/>
<line x1="382.70" y1="60.60" x2="384.0" y2="60.60" stroke="#000" stroke-width="0.6"/>
<line x1="382.70" y1="48.40" x2="384.0" y2="48.40" stroke="#000" stroke-width="0.6"/>
<line x1="382.70" y1="42.30" x2="384.0" y2="42.30" stroke="#000" stroke-width="0.6"/>
<line x1="382.70" y1="36.20" x2="384.0" y2="36.20" stroke="#000" stroke-width="0.6"/>
<line x1="382.70" y1="30.10" x2="384.0" y2="30.10" stroke="#000" stroke-width="0.6"/>
<line x1="382.70" y1="17.90" x2="384.0" y2="17.90" stroke="#000" stroke-width="0.6"/>
<line x1="382.70" y1="11.80" x2="384.0" y2="11.80" stroke="#000" stroke-width="0.6"/>
<line x1="382.70" y1="5.70" x2="384.0" y2="5.70" stroke="#000" stroke-width="0.6"/>
<text x="361.97" y="150.30" font-family="Liberation Sans" font-weight="bold" font-size="10.25" textLength="17.06" lengthAdjust="spacingAndGlyphs" stroke="#000" stroke-width="0.22" stroke-linejoin="round">0.5</text>
<text x="361.80" y="119.45" font-family="Liberation Sans" font-weight="bold" font-size="10.25" textLength="17.34" lengthAdjust="spacingAndGlyphs" stroke="#000" stroke-width="0.22" stroke-linejoin="round">0.6</text>
<text x="362.06" y="88.95" font-family="Liberation Sans" font-weight="bold" font-size="10.25" textLength="17.17" lengthAdjust="spacingAndGlyphs" stroke="#000" stroke-width="0.22" stroke-linejoin="round">0.7</text>
<text x="361.89" y="58.45" font-family="Liberation Sans" font-weight="bold" font-size="10.25" textLength="17.18" lengthAdjust="spacingAndGlyphs" stroke="#000" stroke-width="0.22" stroke-linejoin="round">0.8</text>
<text x="361.91" y="27.95" font-family="Liberation Sans" font-weight="bold" font-size="10.25" textLength="17.24" lengthAdjust="spacingAndGlyphs" stroke="#000" stroke-width="0.22" stroke-linejoin="round">0.9</text>
<text x="390.86" y="176.65" font-family="Liberation Sans" font-weight="bold" font-size="10.25" textLength="13.47" lengthAdjust="spacingAndGlyphs" stroke="#000" stroke-width="0.22" stroke-linejoin="round">60</text>
<text x="479.90" y="176.65" font-family="Liberation Sans" font-weight="bold" font-size="10.25" textLength="13.50" lengthAdjust="spacingAndGlyphs" stroke="#000" stroke-width="0.22" stroke-linejoin="round">70</text>
<text x="569.04" y="176.65" font-family="Liberation Sans" font-weight="bold" font-size="10.25" textLength="13.42" lengthAdjust="spacingAndGlyphs" stroke="#000" stroke-width="0.22" stroke-linejoin="round">80</text>
<text x="657.98" y="176.65" font-family="Liberation Sans" font-weight="bold" font-size="10.25" textLength="13.56" lengthAdjust="spacingAndGlyphs" stroke="#000" stroke-width="0.22" stroke-linejoin="round">90</text>
<text x="469.09" y="191.60" font-family="Liberation Sans" font-weight="bold" font-size="12.70" textLength="123.38" lengthAdjust="spacingAndGlyphs" stroke="#000" stroke-width="0.22" stroke-linejoin="round">Training Data (%)</text>
<g transform="translate(357.00,83.35) rotate(-90)"><text x="-15.07" y="0.00" font-family="Liberation Sans" font-weight="bold" font-size="12.70" textLength="29.96" lengthAdjust="spacingAndGlyphs">MCC</text></g>
<rect x="377.6" y="197.0" width="306.80" height="61.00" rx="1.6" fill="#fff" stroke="#333" stroke-width="1.0"/>
<line x1="381.90" y1="205.00" x2="401.10" y2="205.00" stroke="#6b6a35" stroke-width="1.76816" stroke-dasharray="6.54,2.83"/>
<polygon points="391.50,201.30 393.86,205.00 391.50,208.70 389.14,205.00" fill="#6b6a35" stroke="#6b6a35" stroke-width="1.0" stroke-linejoin="miter"/>
<text x="409.91" y="208.57" font-family="Liberation Sans" font-weight="bold" font-size="10.39" textLength="46.65" lengthAdjust="spacingAndGlyphs" stroke="#000" stroke-width="0.22" stroke-linejoin="round">XGBoost</text>
<line x1="381.90" y1="219.40" x2="401.10" y2="219.40" stroke="#00fcc8" stroke-width="1.76816" stroke-linecap="square"/>
<polygon points="388.83,216.73 394.17,216.73 394.17,222.07 388.83,222.07" fill="#00fcc8" stroke="#00fcc8" stroke-width="1.0" stroke-linejoin="miter"/>
<text x="409.28" y="222.97" font-family="Liberation Sans" font-weight="bold" font-size="10.39" textLength="56.85" lengthAdjust="spacingAndGlyphs" stroke="#000" stroke-width="0.22" stroke-linejoin="round">LSTM-CNN</text>
<line x1="381.90" y1="233.70" x2="401.10" y2="233.70" stroke="#0000cd" stroke-width="1.76816" stroke-dasharray="5.30,8.84,1.77,8.84"/>
<polygon points="394.38,233.70 388.62,230.82 388.62,236.58" fill="#0000cd" stroke="#0000cd" stroke-width="1.0" stroke-linejoin="miter"/>
<text x="409.24" y="237.27" font-family="Liberation Sans" font-weight="bold" font-size="10.39" textLength="42.20" lengthAdjust="spacingAndGlyphs" stroke="#000" stroke-width="0.22" stroke-linejoin="round">LinkNet</text>
<line x1="381.90" y1="248.20" x2="401.10" y2="248.20" stroke="#0a802c" stroke-width="1.76816" stroke-dasharray="8.84,17.68"/>
<polygon points="391.50,251.08 388.62,245.32 394.38,245.32" fill="#0a802c" stroke="#0a802c" stroke-width="1.0" stroke-linejoin="miter"/>
<text x="409.54" y="251.77" font-family="Liberation Sans" font-weight="bold" font-size="10.39" textLength="51.48" lengthAdjust="spacingAndGlyphs" stroke="#000" stroke-width="0.22" stroke-linejoin="round">GhostNet</text>
<line x1="486.50" y1="205.00" x2="506.10" y2="205.00" stroke="#fd0266" stroke-width="1.76816" stroke-linecap="square"/>
<polygon points="493.42,205.00 499.18,202.12 499.18,207.88" fill="#fd0266" stroke="#fd0266" stroke-width="1.0" stroke-linejoin="miter"/>
<text x="514.34" y="208.57" font-family="Liberation Sans" font-weight="bold" font-size="10.39" textLength="57.74" lengthAdjust="spacingAndGlyphs" stroke="#000" stroke-width="0.22" stroke-linejoin="round">GoogleNet</text>
<line x1="486.50" y1="219.40" x2="506.10" y2="219.40" stroke="#6e4605" stroke-width="1.76816" stroke-dasharray="6.54,2.83"/>
<polygon points="496.30,216.78 498.57,218.09 498.57,220.71 496.30,222.02 494.03,220.71 494.03,218.09" fill="#6e4605" stroke="#6e4605" stroke-width="1.0" stroke-linejoin="miter"/>
<text x="514.52" y="222.97" font-family="Liberation Sans" font-weight="bold" font-size="10.39" textLength="43.38" lengthAdjust="spacingAndGlyphs" stroke="#000" stroke-width="0.22" stroke-linejoin="round">AlexNet</text>
<line x1="486.50" y1="233.70" x2="506.10" y2="233.70" stroke="#52006e" stroke-width="1.76816" stroke-dasharray="11.32,2.83,1.77,2.83"/>
<polygon points="496.30,230.62 497.06,232.65 499.23,232.75 497.53,234.10 498.11,236.20 496.30,235.00 494.49,236.20 495.07,234.10 493.37,232.75 495.54,232.65" fill="#52006e" stroke="#52006e" stroke-width="0.6"/>
<text x="514.03" y="237.27" font-family="Liberation Sans" font-weight="bold" font-size="10.39" textLength="65.17" lengthAdjust="spacingAndGlyphs" stroke="#000" stroke-width="0.22" stroke-linejoin="round">EfficientNet</text>
<line x1="599.90" y1="205.00" x2="618.80" y2="205.00" stroke="#146e6e" stroke-width="1.76816" stroke-dasharray="1.77,2.92"/>
<polygon points="609.35,202.12 606.47,207.88 612.23,207.88" fill="#146e6e" stroke="#146e6e" stroke-width="1.0" stroke-linejoin="miter"/>
<text x="627.57" y="208.57" font-family="Liberation Sans" font-weight="bold" font-size="10.39" textLength="23.15" lengthAdjust="spacingAndGlyphs" stroke="#000" stroke-width="0.22" stroke-linejoin="round">CNN</text>
<line x1="599.90" y1="219.40" x2="618.80" y2="219.40" stroke="#cdcc00" stroke-width="1.76816" stroke-linecap="square"/>
<polygon points="609.35,216.52 612.09,218.51 611.04,221.73 607.66,221.73 606.61,218.51" fill="#cdcc00" stroke="#cdcc00" stroke-width="1.0" stroke-linejoin="miter"/>
<text x="627.26" y="222.97" font-family="Liberation Sans" font-weight="bold" font-size="10.39" textLength="52.92" lengthAdjust="spacingAndGlyphs" stroke="#000" stroke-width="0.22" stroke-linejoin="round">Ensemble</text>
<line x1="599.90" y1="233.70" x2="618.80" y2="233.70" stroke="#eb0000" stroke-width="1.76816" stroke-dasharray="6.54,2.83"/>
<circle cx="609.35" cy="233.70" r="2.52" fill="#eb0000" stroke="#eb0000" stroke-width="1.0" stroke-linejoin="miter"/>
<text x="627.25" y="237.27" font-family="Liberation Sans" font-weight="bold" font-size="10.39" textLength="49.29" lengthAdjust="spacingAndGlyphs" stroke="#000" stroke-width="0.22" stroke-linejoin="round">ILN-GNet</text>
<text x="501.40" y="284.10" font-family="Liberation Serif" font-weight="normal" font-size="17.30" textLength="21.00" lengthAdjust="spacingAndGlyphs" stroke="#000" stroke-width="0.18" stroke-linejoin="round">(b)</text>
<clipPath id="clipc"><rect x="207.0" y="295.5" width="296.8" height="165.10000000000002"/></clipPath>
<g clip-path="url(#clipc)">
<line x1="238.50" y1="295.5" x2="238.50" y2="460.6" stroke="#2e9a2e" stroke-opacity="0.34" stroke-width="0.9" stroke-dasharray="2.6,0.9"/>
<line x1="256.50" y1="295.5" x2="256.50" y2="460.6" stroke="#2e9a2e" stroke-opacity="0.34" stroke-width="0.9" stroke-dasharray="2.6,0.9"/>
<line x1="274.50" y1="295.5" x2="274.50" y2="460.6" stroke="#2e9a2e" stroke-opacity="0.34" stroke-width="0.9" stroke-dasharray="2.6,0.9"/>
<line x1="292.50" y1="295.5" x2="292.50" y2="460.6" stroke="#2e9a2e" stroke-opacity="0.34" stroke-width="0.9" stroke-dasharray="2.6,0.9"/>
<line x1="328.50" y1="295.5" x2="328.50" y2="460.6" stroke="#2e9a2e" stroke-opacity="0.34" stroke-width="0.9" stroke-dasharray="2.6,0.9"/>
<line x1="346.50" y1="295.5" x2="346.50" y2="460.6" stroke="#2e9a2e" stroke-opacity="0.34" stroke-width="0.9" stroke-dasharray="2.6,0.9"/>
<line x1="364.50" y1="295.5" x2="364.50" y2="460.6" stroke="#2e9a2e" stroke-opacity="0.34" stroke-width="0.9" stroke-dasharray="2.6,0.9"/>
<line x1="382.50" y1="295.5" x2="382.50" y2="460.6" stroke="#2e9a2e" stroke-opacity="0.34" stroke-width="0.9" stroke-dasharray="2.6,0.9"/>
<line x1="418.50" y1="295.5" x2="418.50" y2="460.6" stroke="#2e9a2e" stroke-opacity="0.34" stroke-width="0.9" stroke-dasharray="2.6,0.9"/>
<line x1="436.50" y1="295.5" x2="436.50" y2="460.6" stroke="#2e9a2e" stroke-opacity="0.34" stroke-width="0.9" stroke-dasharray="2.6,0.9"/>
<line x1="454.50" y1="295.5" x2="454.50" y2="460.6" stroke="#2e9a2e" stroke-opacity="0.34" stroke-width="0.9" stroke-dasharray="2.6,0.9"/>
<line x1="472.50" y1="295.5" x2="472.50" y2="460.6" stroke="#2e9a2e" stroke-opacity="0.34" stroke-width="0.9" stroke-dasharray="2.6,0.9"/>
<line x1="207.0" y1="457.95" x2="503.8" y2="457.95" stroke="#2e9a2e" stroke-opacity="0.34" stroke-width="0.9" stroke-dasharray="2.4,1"/>
<line x1="207.0" y1="451.75" x2="503.8" y2="451.75" stroke="#2e9a2e" stroke-opacity="0.34" stroke-width="0.9" stroke-dasharray="2.4,1"/>
<line x1="207.0" y1="445.55" x2="503.8" y2="445.55" stroke="#2e9a2e" stroke-opacity="0.34" stroke-width="0.9" stroke-dasharray="2.4,1"/>
<line x1="207.0" y1="433.15" x2="503.8" y2="433.15" stroke="#2e9a2e" stroke-opacity="0.34" stroke-width="0.9" stroke-dasharray="2.4,1"/>
<line x1="207.0" y1="426.95" x2="503.8" y2="426.95" stroke="#2e9a2e" stroke-opacity="0.34" stroke-width="0.9" stroke-dasharray="2.4,1"/>
<line x1="207.0" y1="420.75" x2="503.8" y2="420.75" stroke="#2e9a2e" stroke-opacity="0.34" stroke-width="0.9" stroke-dasharray="2.4,1"/>
<line x1="207.0" y1="414.55" x2="503.8" y2="414.55" stroke="#2e9a2e" stroke-opacity="0.34" stroke-width="0.9" stroke-dasharray="2.4,1"/>
<line x1="207.0" y1="402.15" x2="503.8" y2="402.15" stroke="#2e9a2e" stroke-opacity="0.34" stroke-width="0.9" stroke-dasharray="2.4,1"/>
<line x1="207.0" y1="395.95" x2="503.8" y2="395.95" stroke="#2e9a2e" stroke-opacity="0.34" stroke-width="0.9" stroke-dasharray="2.4,1"/>
<line x1="207.0" y1="389.75" x2="503.8" y2="389.75" stroke="#2e9a2e" stroke-opacity="0.34" stroke-width="0.9" stroke-dasharray="2.4,1"/>
<line x1="207.0" y1="383.55" x2="503.8" y2="383.55" stroke="#2e9a2e" stroke-opacity="0.34" stroke-width="0.9" stroke-dasharray="2.4,1"/>
<line x1="207.0" y1="371.15" x2="503.8" y2="371.15" stroke="#2e9a2e" stroke-opacity="0.34" stroke-width="0.9" stroke-dasharray="2.4,1"/>
<line x1="207.0" y1="364.95" x2="503.8" y2="364.95" stroke="#2e9a2e" stroke-opacity="0.34" stroke-width="0.9" stroke-dasharray="2.4,1"/>
<line x1="207.0" y1="358.75" x2="503.8" y2="358.75" stroke="#2e9a2e" stroke-opacity="0.34" stroke-width="0.9" stroke-dasharray="2.4,1"/>
<line x1="207.0" y1="352.55" x2="503.8" y2="352.55" stroke="#2e9a2e" stroke-opacity="0.34" stroke-width="0.9" stroke-dasharray="2.4,1"/>
<line x1="207.0" y1="340.15" x2="503.8" y2="340.15" stroke="#2e9a2e" stroke-opacity="0.34" stroke-width="0.9" stroke-dasharray="2.4,1"/>
<line x1="207.0" y1="333.95" x2="503.8" y2="333.95" stroke="#2e9a2e" stroke-opacity="0.34" stroke-width="0.9" stroke-dasharray="2.4,1"/>
<line x1="207.0" y1="327.75" x2="503.8" y2="327.75" stroke="#2e9a2e" stroke-opacity="0.34" stroke-width="0.9" stroke-dasharray="2.4,1"/>
<line x1="207.0" y1="321.55" x2="503.8" y2="321.55" stroke="#2e9a2e" stroke-opacity="0.34" stroke-width="0.9" stroke-dasharray="2.4,1"/>
<line x1="207.0" y1="309.15" x2="503.8" y2="309.15" stroke="#2e9a2e" stroke-opacity="0.34" stroke-width="0.9" stroke-dasharray="2.4,1"/>
<line x1="207.0" y1="302.95" x2="503.8" y2="302.95" stroke="#2e9a2e" stroke-opacity="0.34" stroke-width="0.9" stroke-dasharray="2.4,1"/>
<line x1="207.0" y1="296.75" x2="503.8" y2="296.75" stroke="#2e9a2e" stroke-opacity="0.34" stroke-width="0.9" stroke-dasharray="2.4,1"/>
<line x1="220.50" y1="295.5" x2="220.50" y2="460.6" stroke="#5a5a5a" stroke-width="0.9"/>
<line x1="310.50" y1="295.5" x2="310.50" y2="460.6" stroke="#5a5a5a" stroke-width="0.9"/>
<line x1="400.50" y1="295.5" x2="400.50" y2="460.6" stroke="#5a5a5a" stroke-width="0.9"/>
<line x1="490.50" y1="295.5" x2="490.50" y2="460.6" stroke="#5a5a5a" stroke-width="0.9"/>
<line x1="207.0" y1="439.35" x2="503.8" y2="439.35" stroke="#6e6e6e" stroke-width="0.9"/>
<line x1="207.0" y1="408.35" x2="503.8" y2="408.35" stroke="#6e6e6e" stroke-width="0.9"/>
<line x1="207.0" y1="377.35" x2="503.8" y2="377.35" stroke="#6e6e6e" stroke-width="0.9"/>
<line x1="207.0" y1="346.35" x2="503.8" y2="346.35" stroke="#6e6e6e" stroke-width="0.9"/>
<line x1="207.0" y1="315.35" x2="503.8" y2="315.35" stroke="#6e6e6e" stroke-width="0.9"/>
<polyline points="220.50,452.80 310.50,450.10 400.50,415.90 490.50,382.70" fill="none" stroke="#6b6a35" stroke-width="1.78536" stroke-dasharray="6.61,2.86" stroke-linejoin="round"/>
<polygon points="220.50,449.06 222.89,452.80 220.50,456.54 218.11,452.80" fill="#6b6a35" stroke="#6b6a35" stroke-width="1.0" stroke-linejoin="miter"/>
<polygon points="310.50,446.36 312.89,450.10 310.50,453.84 308.11,450.10" fill="#6b6a35" stroke="#6b6a35" stroke-width="1.0" stroke-linejoin="miter"/>
<polygon points="400.50,412.16 402.89,415.90 400.50,419.64 398.11,415.90" fill="#6b6a35" stroke="#6b6a35" stroke-width="1.0" stroke-linejoin="miter"/>
<polygon points="490.50,378.96 492.89,382.70 490.50,386.44 488.11,382.70" fill="#6b6a35" stroke="#6b6a35" stroke-width="1.0" stroke-linejoin="miter"/>
<polyline points="220.50,381.80 310.50,375.60 400.50,355.40 490.50,356.90" fill="none" stroke="#00fcc8" stroke-width="1.78536" stroke-linecap="square" stroke-linejoin="round"/>
<polygon points="217.80,379.10 223.20,379.10 223.20,384.50 217.80,384.50" fill="#00fcc8" stroke="#00fcc8" stroke-width="1.0" stroke-linejoin="miter"/>
<polygon points="307.80,372.90 313.20,372.90 313.20,378.30 307.80,378.30" fill="#00fcc8" stroke="#00fcc8" stroke-width="1.0" stroke-linejoin="miter"/>
<polygon points="397.80,352.70 403.20,352.70 403.20,358.10 397.80,358.10" fill="#00fcc8" stroke="#00fcc8" stroke-width="1.0" stroke-linejoin="miter"/>
<polygon points="487.80,354.20 493.20,354.20 493.20,359.60 487.80,359.60" fill="#00fcc8" stroke="#00fcc8" stroke-width="1.0" stroke-linejoin="miter"/>
<polyline points="220.50,364.00 310.50,356.50 400.50,313.80 490.50,321.80" fill="none" stroke="#0000cd" stroke-width="1.78536" stroke-dasharray="5.36,8.93,1.79,8.93" stroke-linejoin="round"/>
<polygon points="223.41,364.00 217.59,361.09 217.59,366.91" fill="#0000cd" stroke="#0000cd" stroke-width="1.0" stroke-linejoin="miter"/>
<polygon points="313.41,356.50 307.59,353.59 307.59,359.41" fill="#0000cd" stroke="#0000cd" stroke-width="1.0" stroke-linejoin="miter"/>
<polygon points="403.41,313.80 397.59,310.89 397.59,316.71" fill="#0000cd" stroke="#0000cd" stroke-width="1.0" stroke-linejoin="miter"/>
<polygon points="493.41,321.80 487.59,318.89 487.59,324.71" fill="#0000cd" stroke="#0000cd" stroke-width="1.0" stroke-linejoin="miter"/>
<polyline points="220.50,415.90 310.50,386.00 400.50,374.70 490.50,376.80" fill="none" stroke="#0a802c" stroke-width="1.78536" stroke-dasharray="8.93,17.85" stroke-linejoin="round"/>
<polygon points="220.50,418.81 217.59,412.99 223.41,412.99" fill="#0a802c" stroke="#0a802c" stroke-width="1.0" stroke-linejoin="miter"/>
<polygon points="310.50,388.91 307.59,383.09 313.41,383.09" fill="#0a802c" stroke="#0a802c" stroke-width="1.0" stroke-linejoin="miter"/>
<polygon points="400.50,377.61 397.59,371.79 403.41,371.79" fill="#0a802c" stroke="#0a802c" stroke-width="1.0" stroke-linejoin="miter"/>
<polygon points="490.50,379.71 487.59,373.89 493.41,373.89" fill="#0a802c" stroke="#0a802c" stroke-width="1.0" stroke-linejoin="miter"/>
<polyline points="220.50,376.60 310.50,380.60 400.50,361.90 490.50,364.00" fill="none" stroke="#fd0266" stroke-width="1.78536" stroke-linecap="square" stroke-linejoin="round"/>
<polygon points="217.59,376.60 223.41,373.69 223.41,379.51" fill="#fd0266" stroke="#fd0266" stroke-width="1.0" stroke-linejoin="miter"/>
<polygon points="307.59,380.60 313.41,377.69 313.41,383.51" fill="#fd0266" stroke="#fd0266" stroke-width="1.0" stroke-linejoin="miter"/>
<polygon points="397.59,361.90 403.41,358.99 403.41,364.81" fill="#fd0266" stroke="#fd0266" stroke-width="1.0" stroke-linejoin="miter"/>
<polygon points="487.59,364.00 493.41,361.09 493.41,366.91" fill="#fd0266" stroke="#fd0266" stroke-width="1.0" stroke-linejoin="miter"/>
<polyline points="220.50,385.00 310.50,355.30 400.50,352.40 490.50,314.90" fill="none" stroke="#6e4605" stroke-width="1.78536" stroke-dasharray="6.61,2.86" stroke-linejoin="round"/>
<polygon points="220.50,382.35 222.79,383.68 222.79,386.32 220.50,387.65 218.21,386.32 218.21,383.68" fill="#6e4605" stroke="#6e4605" stroke-width="1.0" stroke-linejoin="miter"/>
<polygon points="310.50,352.65 312.79,353.98 312.79,356.62 310.50,357.95 308.21,356.62 308.21,353.98" fill="#6e4605" stroke="#6e4605" stroke-width="1.0" stroke-linejoin="miter"/>
<polygon points="400.50,349.75 402.79,351.08 402.79,353.72 400.50,355.05 398.21,353.72 398.21,351.08" fill="#6e4605" stroke="#6e4605" stroke-width="1.0" stroke-linejoin="miter"/>
<polygon points="490.50,312.25 492.79,313.58 492.79,316.22 490.50,317.55 488.21,316.22 488.21,313.58" fill="#6e4605" stroke="#6e4605" stroke-width="1.0" stroke-linejoin="miter"/>
<polyline points="220.50,446.70 310.50,442.60 400.50,400.90 490.50,374.50" fill="none" stroke="#52006e" stroke-width="1.78536" stroke-dasharray="11.43,2.86,1.79,2.86" stroke-linejoin="round"/>
<polygon points="220.50,443.59 221.27,445.64 223.46,445.74 221.74,447.10 222.33,449.22 220.50,448.01 218.67,449.22 219.26,447.10 217.54,445.74 219.73,445.64" fill="#52006e" stroke="#52006e" stroke-width="0.6"/>
<polygon points="310.50,439.49 311.27,441.54 313.46,441.64 311.74,443.00 312.33,445.12 310.50,443.91 308.67,445.12 309.26,443.00 307.54,441.64 309.73,441.54" fill="#52006e" stroke="#52006e" stroke-width="0.6"/>
<polygon points="400.50,397.79 401.27,399.84 403.46,399.94 401.74,401.30 402.33,403.42 400.50,402.21 398.67,403.42 399.26,401.30 397.54,399.94 399.73,399.84" fill="#52006e" stroke="#52006e" stroke-width="0.6"/>
<polygon points="490.50,371.39 491.27,373.44 493.46,373.54 491.74,374.90 492.33,377.02 490.50,375.81 488.67,377.02 489.26,374.90 487.54,373.54 489.73,373.44" fill="#52006e" stroke="#52006e" stroke-width="0.6"/>
<polyline points="220.50,404.10 310.50,391.20 400.50,367.10 490.50,361.90" fill="none" stroke="#146e6e" stroke-width="1.78536" stroke-dasharray="1.79,2.95" stroke-linejoin="round"/>
<polygon points="220.50,401.19 217.59,407.01 223.41,407.01" fill="#146e6e" stroke="#146e6e" stroke-width="1.0" stroke-linejoin="miter"/>
<polygon points="310.50,388.29 307.59,394.11 313.41,394.11" fill="#146e6e" stroke="#146e6e" stroke-width="1.0" stroke-linejoin="miter"/>
<polygon points="400.50,364.19 397.59,370.01 403.41,370.01" fill="#146e6e" stroke="#146e6e" stroke-width="1.0" stroke-linejoin="miter"/>
<polygon points="490.50,358.99 487.59,364.81 493.41,364.81" fill="#146e6e" stroke="#146e6e" stroke-width="1.0" stroke-linejoin="miter"/>
<polyline points="220.50,427.50 310.50,421.30 400.50,406.40 490.50,393.70" fill="none" stroke="#cdcc00" stroke-width="1.78536" stroke-linecap="square" stroke-linejoin="round"/>
<polygon points="220.50,424.59 223.26,426.60 222.21,429.85 218.79,429.85 217.74,426.60" fill="#cdcc00" stroke="#cdcc00" stroke-width="1.0" stroke-linejoin="miter"/>
<polygon points="310.50,418.39 313.26,420.40 312.21,423.65 308.79,423.65 307.74,420.40" fill="#cdcc00" stroke="#cdcc00" stroke-width="1.0" stroke-linejoin="miter"/>
<polygon points="400.50,403.49 403.26,405.50 402.21,408.75 398.79,408.75 397.74,405.50" fill="#cdcc00" stroke="#cdcc00" stroke-width="1.0" stroke-linejoin="miter"/>
<polygon points="490.50,390.79 493.26,392.80 492.21,396.05 488.79,396.05 487.74,392.80" fill="#cdcc00" stroke="#cdcc00" stroke-width="1.0" stroke-linejoin="miter"/>
<polyline points="220.50,346.50 310.50,311.70 400.50,305.10 490.50,303.00" fill="none" stroke="#eb0000" stroke-width="1.78536" stroke-dasharray="6.61,2.86" stroke-linejoin="round"/>
<circle cx="220.50" cy="346.50" r="2.54" fill="#eb0000" stroke="#eb0000" stroke-width="1.0" stroke-linejoin="miter"/>
<circle cx="310.50" cy="311.70" r="2.54" fill="#eb0000" stroke="#eb0000" stroke-width="1.0" stroke-linejoin="miter"/>
<circle cx="400.50" cy="305.10" r="2.54" fill="#eb0000" stroke="#eb0000" stroke-width="1.0" stroke-linejoin="miter"/>
<circle cx="490.50" cy="303.00" r="2.54" fill="#eb0000" stroke="#eb0000" stroke-width="1.0" stroke-linejoin="miter"/>
</g>
<rect x="207.0" y="295.5" width="296.80" height="165.10" fill="none" stroke="#000" stroke-width="1.5"/>
<line x1="220.50" y1="460.6" x2="220.50" y2="463.60" stroke="#000" stroke-width="0.9"/>
<line x1="310.50" y1="460.6" x2="310.50" y2="463.60" stroke="#000" stroke-width="0.9"/>
<line x1="400.50" y1="460.6" x2="400.50" y2="463.60" stroke="#000" stroke-width="0.9"/>
<line x1="490.50" y1="460.6" x2="490.50" y2="463.60" stroke="#000" stroke-width="0.9"/>
<line x1="238.50" y1="460.6" x2="238.50" y2="461.90" stroke="#000" stroke-width="0.6"/>
<line x1="256.50" y1="460.6" x2="256.50" y2="461.90" stroke="#000" stroke-width="0.6"/>
<line x1="274.50" y1="460.6" x2="274.50" y2="461.90" stroke="#000" stroke-width="0.6"/>
<line x1="292.50" y1="460.6" x2="292.50" y2="461.90" stroke="#000" stroke-width="0.6"/>
<line x1="328.50" y1="460.6" x2="328.50" y2="461.90" stroke="#000" stroke-width="0.6"/>
<line x1="346.50" y1="460.6" x2="346.50" y2="461.90" stroke="#000" stroke-width="0.6"/>
<line x1="364.50" y1="460.6" x2="364.50" y2="461.90" stroke="#000" stroke-width="0.6"/>
<line x1="382.50" y1="460.6" x2="382.50" y2="461.90" stroke="#000" stroke-width="0.6"/>
<line x1="418.50" y1="460.6" x2="418.50" y2="461.90" stroke="#000" stroke-width="0.6"/>
<line x1="436.50" y1="460.6" x2="436.50" y2="461.90" stroke="#000" stroke-width="0.6"/>
<line x1="454.50" y1="460.6" x2="454.50" y2="461.90" stroke="#000" stroke-width="0.6"/>
<line x1="472.50" y1="460.6" x2="472.50" y2="461.90" stroke="#000" stroke-width="0.6"/>
<line x1="204.00" y1="439.35" x2="207.0" y2="439.35" stroke="#000" stroke-width="0.9"/>
<line x1="204.00" y1="408.35" x2="207.0" y2="408.35" stroke="#000" stroke-width="0.9"/>
<line x1="204.00" y1="377.35" x2="207.0" y2="377.35" stroke="#000" stroke-width="0.9"/>
<line x1="204.00" y1="346.35" x2="207.0" y2="346.35" stroke="#000" stroke-width="0.9"/>
<line x1="204.00" y1="315.35" x2="207.0" y2="315.35" stroke="#000" stroke-width="0.9"/>
<line x1="205.70" y1="457.95" x2="207.0" y2="457.95" stroke="#000" stroke-width="0.6"/>
<line x1="205.70" y1="451.75" x2="207.0" y2="451.75" stroke="#000" stroke-width="0.6"/>
<line x1="205.70" y1="445.55" x2="207.0" y2="445.55" stroke="#000" stroke-width="0.6"/>
<line x1="205.70" y1="433.15" x2="207.0" y2="433.15" stroke="#000" stroke-width="0.6"/>
<line x1="205.70" y1="426.95" x2="207.0" y2="426.95" stroke="#000" stroke-width="0.6"/>
<line x1="205.70" y1="420.75" x2="207.0" y2="420.75" stroke="#000" stroke-width="0.6"/>
<line x1="205.70" y1="414.55" x2="207.0" y2="414.55" stroke="#000" stroke-width="0.6"/>
<line x1="205.70" y1="402.15" x2="207.0" y2="402.15" stroke="#000" stroke-width="0.6"/>
<line x1="205.70" y1="395.95" x2="207.0" y2="395.95" stroke="#000" stroke-width="0.6"/>
<line x1="205.70" y1="389.75" x2="207.0" y2="389.75" stroke="#000" stroke-width="0.6"/>
<line x1="205.70" y1="383.55" x2="207.0" y2="383.55" stroke="#000" stroke-width="0.6"/>
<line x1="205.70" y1="371.15" x2="207.0" y2="371.15" stroke="#000" stroke-width="0.6"/>
<line x1="205.70" y1="364.95" x2="207.0" y2="364.95" stroke="#000" stroke-width="0.6"/>
<line x1="205.70" y1="358.75" x2="207.0" y2="358.75" stroke="#000" stroke-width="0.6"/>
<line x1="205.70" y1="352.55" x2="207.0" y2="352.55" stroke="#000" stroke-width="0.6"/>
<line x1="205.70" y1="340.15" x2="207.0" y2="340.15" stroke="#000" stroke-width="0.6"/>
<line x1="205.70" y1="333.95" x2="207.0" y2="333.95" stroke="#000" stroke-width="0.6"/>
<line x1="205.70" y1="327.75" x2="207.0" y2="327.75" stroke="#000" stroke-width="0.6"/>
<line x1="205.70" y1="321.55" x2="207.0" y2="321.55" stroke="#000" stroke-width="0.6"/>
<line x1="205.70" y1="309.15" x2="207.0" y2="309.15" stroke="#000" stroke-width="0.6"/>
<line x1="205.70" y1="302.95" x2="207.0" y2="302.95" stroke="#000" stroke-width="0.6"/>
<line x1="205.70" y1="296.75" x2="207.0" y2="296.75" stroke="#000" stroke-width="0.6"/>
<text x="177.44" y="443.30" font-family="Liberation Sans" font-weight="bold" font-size="10.25" textLength="23.99" lengthAdjust="spacingAndGlyphs" stroke="#000" stroke-width="0.22" stroke-linejoin="round">0.75</text>
<text x="177.22" y="412.30" font-family="Liberation Sans" font-weight="bold" font-size="10.25" textLength="24.39" lengthAdjust="spacingAndGlyphs" stroke="#000" stroke-width="0.22" stroke-linejoin="round">0.80</text>
<text x="177.44" y="381.30" font-family="Liberation Sans" font-weight="bold" font-size="10.25" textLength="23.99" lengthAdjust="spacingAndGlyphs" stroke="#000" stroke-width="0.22" stroke-linejoin="round">0.85</text>
<text x="177.22" y="350.30" font-family="Liberation Sans" font-weight="bold" font-size="10.25" textLength="24.39" lengthAdjust="spacingAndGlyphs" stroke="#000" stroke-width="0.22" stroke-linejoin="round">0.90</text>
<text x="177.44" y="319.30" font-family="Liberation Sans" font-weight="bold" font-size="10.25" textLength="23.99" lengthAdjust="spacingAndGlyphs" stroke="#000" stroke-width="0.22" stroke-linejoin="round">0.95</text>
<text x="213.86" y="472.95" font-family="Liberation Sans" font-weight="bold" font-size="10.25" textLength="13.47" lengthAdjust="spacingAndGlyphs" stroke="#000" stroke-width="0.22" stroke-linejoin="round">60</text>
<text x="303.83" y="472.95" font-family="Liberation Sans" font-weight="bold" font-size="10.25" textLength="13.50" lengthAdjust="spacingAndGlyphs" stroke="#000" stroke-width="0.22" stroke-linejoin="round">70</text>
<text x="393.91" y="472.95" font-family="Liberation Sans" font-weight="bold" font-size="10.25" textLength="13.42" lengthAdjust="spacingAndGlyphs" stroke="#000" stroke-width="0.22" stroke-linejoin="round">80</text>
<text x="483.78" y="472.95" font-family="Liberation Sans" font-weight="bold" font-size="10.25" textLength="13.56" lengthAdjust="spacingAndGlyphs" stroke="#000" stroke-width="0.22" stroke-linejoin="round">90</text>
<text x="293.24" y="487.70" font-family="Liberation Sans" font-weight="bold" font-size="12.75" textLength="123.88" lengthAdjust="spacingAndGlyphs" stroke="#000" stroke-width="0.22" stroke-linejoin="round">Training Data (%)</text>
<g transform="translate(172.80,378.40) rotate(-90)"><text x="-14.45" y="0.00" font-family="Liberation Sans" font-weight="bold" font-size="12.75" textLength="29.13" lengthAdjust="spacingAndGlyphs">NPV</text></g>
<rect x="200.4" y="493.0" width="309.60" height="61.40" rx="1.6" fill="#fff" stroke="#333" stroke-width="1.0"/>
<line x1="204.90" y1="501.00" x2="224.10" y2="501.00" stroke="#6b6a35" stroke-width="1.78536" stroke-dasharray="6.61,2.86"/>
<polygon points="214.50,497.26 216.89,501.00 214.50,504.74 212.11,501.00" fill="#6b6a35" stroke="#6b6a35" stroke-width="1.0" stroke-linejoin="miter"/>
<text x="232.91" y="504.61" font-family="Liberation Sans" font-weight="bold" font-size="10.49" textLength="47.13" lengthAdjust="spacingAndGlyphs" stroke="#000" stroke-width="0.22" stroke-linejoin="round">XGBoost</text>
<line x1="204.90" y1="515.50" x2="224.10" y2="515.50" stroke="#00fcc8" stroke-width="1.78536" stroke-linecap="square"/>
<polygon points="211.80,512.80 217.20,512.80 217.20,518.20 211.80,518.20" fill="#00fcc8" stroke="#00fcc8" stroke-width="1.0" stroke-linejoin="miter"/>
<text x="232.27" y="519.11" font-family="Liberation Sans" font-weight="bold" font-size="10.49" textLength="57.43" lengthAdjust="spacingAndGlyphs" stroke="#000" stroke-width="0.22" stroke-linejoin="round">LSTM-CNN</text>
<line x1="204.90" y1="530.00" x2="224.10" y2="530.00" stroke="#0000cd" stroke-width="1.78536" stroke-dasharray="5.36,8.93,1.79,8.93"/>
<polygon points="217.41,530.00 211.59,527.09 211.59,532.91" fill="#0000cd" stroke="#0000cd" stroke-width="1.0" stroke-linejoin="miter"/>
<text x="232.23" y="533.61" font-family="Liberation Sans" font-weight="bold" font-size="10.49" textLength="42.63" lengthAdjust="spacingAndGlyphs" stroke="#000" stroke-width="0.22" stroke-linejoin="round">LinkNet</text>
<line x1="204.90" y1="544.40" x2="224.10" y2="544.40" stroke="#0a802c" stroke-width="1.78536" stroke-dasharray="8.93,17.85"/>
<polygon points="214.50,547.31 211.59,541.49 217.41,541.49" fill="#0a802c" stroke="#0a802c" stroke-width="1.0" stroke-linejoin="miter"/>
<text x="232.54" y="548.01" font-family="Liberation Sans" font-weight="bold" font-size="10.49" textLength="52.01" lengthAdjust="spacingAndGlyphs" stroke="#000" stroke-width="0.22" stroke-linejoin="round">GhostNet</text>
<line x1="310.50" y1="501.00" x2="330.10" y2="501.00" stroke="#fd0266" stroke-width="1.78536" stroke-linecap="square"/>
<polygon points="317.39,501.00 323.21,498.09 323.21,503.91" fill="#fd0266" stroke="#fd0266" stroke-width="1.0" stroke-linejoin="miter"/>
<text x="338.34" y="504.61" font-family="Liberation Sans" font-weight="bold" font-size="10.49" textLength="58.33" lengthAdjust="spacingAndGlyphs" stroke="#000" stroke-width="0.22" stroke-linejoin="round">GoogleNet</text>
<line x1="310.50" y1="515.50" x2="330.10" y2="515.50" stroke="#6e4605" stroke-width="1.78536" stroke-dasharray="6.61,2.86"/>
<polygon points="320.30,512.85 322.59,514.18 322.59,516.82 320.30,518.15 318.01,516.82 318.01,514.18" fill="#6e4605" stroke="#6e4605" stroke-width="1.0" stroke-linejoin="miter"/>
<text x="338.52" y="519.11" font-family="Liberation Sans" font-weight="bold" font-size="10.49" textLength="43.83" lengthAdjust="spacingAndGlyphs" stroke="#000" stroke-width="0.22" stroke-linejoin="round">AlexNet</text>
<line x1="310.50" y1="530.00" x2="330.10" y2="530.00" stroke="#52006e" stroke-width="1.78536" stroke-dasharray="11.43,2.86,1.79,2.86"/>
<polygon points="320.30,526.89 321.07,528.94 323.26,529.04 321.54,530.40 322.13,532.52 320.30,531.31 318.47,532.52 319.06,530.40 317.34,529.04 319.53,528.94" fill="#52006e" stroke="#52006e" stroke-width="0.6"/>
<text x="338.02" y="533.61" font-family="Liberation Sans" font-weight="bold" font-size="10.49" textLength="65.84" lengthAdjust="spacingAndGlyphs" stroke="#000" stroke-width="0.22" stroke-linejoin="round">EfficientNet</text>
<line x1="424.50" y1="501.00" x2="443.60" y2="501.00" stroke="#146e6e" stroke-width="1.78536" stroke-dasharray="1.79,2.95"/>
<polygon points="434.05,498.09 431.14,503.91 436.96,503.91" fill="#146e6e" stroke="#146e6e" stroke-width="1.0" stroke-linejoin="miter"/>
<text x="452.37" y="504.61" font-family="Liberation Sans" font-weight="bold" font-size="10.49" textLength="23.38" lengthAdjust="spacingAndGlyphs" stroke="#000" stroke-width="0.22" stroke-linejoin="round">CNN</text>
<line x1="424.50" y1="515.50" x2="443.60" y2="515.50" stroke="#cdcc00" stroke-width="1.78536" stroke-linecap="square"/>
<polygon points="434.05,512.59 436.81,514.60 435.76,517.85 432.34,517.85 431.29,514.60" fill="#cdcc00" stroke="#cdcc00" stroke-width="1.0" stroke-linejoin="miter"/>
<text x="452.05" y="519.11" font-family="Liberation Sans" font-weight="bold" font-size="10.49" textLength="53.46" lengthAdjust="spacingAndGlyphs" stroke="#000" stroke-width="0.22" stroke-linejoin="round">Ensemble</text>
<line x1="424.50" y1="530.00" x2="443.60" y2="530.00" stroke="#eb0000" stroke-width="1.78536" stroke-dasharray="6.61,2.86"/>
<circle cx="434.05" cy="530.00" r="2.54" fill="#eb0000" stroke="#eb0000" stroke-width="1.0" stroke-linejoin="miter"/>
<text x="452.04" y="533.61" font-family="Liberation Sans" font-weight="bold" font-size="10.49" textLength="49.80" lengthAdjust="spacingAndGlyphs" stroke="#000" stroke-width="0.22" stroke-linejoin="round">ILN-GNet</text>
<text x="326.89" y="580.60" font-family="Liberation Serif" font-weight="normal" font-size="17.30" textLength="20.11" lengthAdjust="spacingAndGlyphs" stroke="#000" stroke-width="0.18" stroke-linejoin="round">(c)</text>
</svg>
</body></html>
